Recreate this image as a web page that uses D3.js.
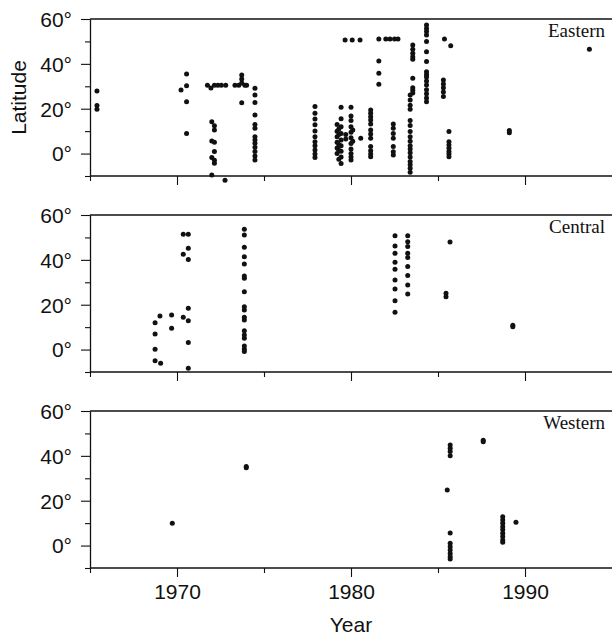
<!DOCTYPE html>
<html>
<head>
<meta charset="utf-8">
<script src="https://cdn.jsdelivr.net/npm/d3@7"></script>
<style>
  body { margin: 0; background: #fff; }
  svg text { fill: #111; }
</style>
</head>
<body>
<div id="chart"></div>
<script>
// Each entry: [year, [latitudes observed at that year]]
const easternCols = [
  [1965.4, [27.9, 21.4, 19.8]],
  [1970.23, [28.3]],
  [1970.55, [35.5, 30.2, 23.1, 9.0]],
  [1971.75, [30.5]], [1971.95, [29.2]], [1972.15, [30.5]], [1972.35, [30.5]], [1972.55, [30.5]], [1972.8, [30.5]],
  [1972.0, [14.2, 5.6, -1.8, -9.5]],
  [1972.15, [12.4, 10.5, 5.0, 0.9, -3.0, -4.3]],
  [1972.76, [-11.9]],
  [1973.33, [30.5]], [1973.55, [30.5]], [1973.72, [35.0, 33.3, 31.5, 22.7]], [1973.9, [30.5]], [1974.0, [30.5]],
  [1974.48, [29.1, 26.1, 22.8, 17.2, 13, 11.3, 7.5, 6, 4.6, 2.8, 0.9, -1.1, -2.9]],
  [1977.93, [21, 18, 15.4, 12.8, 10.1, 7.5, 5.3, 3.5, 1.6, -0.2, -1.7]],
  [1979.2, [13, 10, 7.5, 5, 2.5, 0]],
  [1979.3, [11, 8.5, 4, 1.5, -2.5]],
  [1979.43, [20.6, 15.5, 12, 9, 6, 3.5, 1, -1.5, -4.4]],
  [1979.7, [8.5, 6.5]],
  [1980.0, [20.6, 16.8, 14.7, 12, 9.5, 7, 4.5, 2, 0, -1.5, -2.9]],
  [1980.1, [10.5, 5.5]],
  [1980.56, [6.8]],
  [1979.66, [50.6]], [1980.07, [50.6]], [1980.52, [50.6]],
  [1981.13, [19.4, 18, 16.4, 15, 13.2, 10.5, 8.7, 6.8, 3.1, 1.3, -0.2, -1.4]],
  [1981.6, [51.1, 41.3, 35.8, 30.9]],
  [1982.0, [51.1]], [1982.24, [51.1]], [1982.5, [51.1]], [1982.7, [51.1]],
  [1982.43, [13.2, 11.3, 9, 6.8, 3.1, 0.8, -0.6]],
  [1983.55, [48.4, 46.5, 44.7, 43.2, 42, 33.6, 29.4, 28.2, 27]],
  [1983.4, [26.1, 23.9, 21.5, 19.8, 14.7, 12.5, 9.8, 7.5, 5.5, 3.5, 2, 0.4, -1.5, -3.5, -5, -6.5, -8.3]],
  [1984.34, [57.3, 55.8, 54.4, 52.9, 50, 45.4, 41, 36.5, 35.3, 34.1, 32.4, 30.6, 28.5, 26.7, 24.8, 23.1]],
  [1985.37, [51.1]], [1985.73, [48.1]],
  [1985.31, [32.8, 31, 29.3, 27.5, 25.4]],
  [1985.63, [9.8, 5.3, 3.8, 2.4, 0.9, -0.2, -1.4]],
  [1989.1, [10.3, 9.3]],
  [1993.7, [46.5]]
];

const centralCols = [
  [1968.74, [12.0, 6.9, 0.1, -5.0]],
  [1969.02, [15.0]], [1969.06, [-6.1]],
  [1969.69, [15.4, 9.5]],
  [1970.36, [51.4, 42.5, 14.4]],
  [1970.65, [51.4, 45.2, 40.2, 18.4, 12.9, 3.2, -8.3]],
  [1973.87, [53.6, 51.1, 45.6, 41.4, 38.2, 32.8, 31.8, 25.8, 19.1, 17.6, 14.4, 13.2, 8.4, 6.5, 5.0, 1.6, 0.1, -0.9]],
  [1982.53, [50.8, 46.2, 42.9, 38.9, 35.8, 31.0, 27.0, 21.8, 16.6]],
  [1983.26, [50.8, 48.1, 45.9, 42.9, 41.0, 37.0, 33.0, 28.8, 24.8]],
  [1985.69, [48.0]],
  [1985.46, [25.1, 23.6]],
  [1989.3, [10.8, 10.2]]
];

const westernCols = [
  [1969.73, [9.9]],
  [1973.98, [35.3, 34.7]],
  [1985.53, [24.8]],
  [1985.7, [44.8, 43.4, 41.9, 40.1, 5.6, 1.0, -0.5, -2.0, -3.5, -5.0, -6.0]],
  [1987.6, [47.0, 46.3]],
  [1988.72, [12.9, 11.4, 9.9, 8.4, 7.0, 5.5, 4.0, 2.5, 1.5]],
  [1989.48, [10.4]]
];

const panelNames = ["Eastern", "Central", "Western"];
const yearTicks = [1965, 1970, 1975, 1980, 1985, 1990];
const yearLabels = [1970, 1980, 1990];
const latTicks = [-10, 0, 10, 20, 30, 40, 50, 60];
const latLabels = [0, 20, 40, 60];

const width = 613, height = 635;
const left = 90, right = 612;
const panelTops = [19, 215, 411], panelH = 157;

const svg = d3.select("#chart").append("svg")
  .attr("width", width)
  .attr("height", height);

const x = d3.scaleLinear().domain([1965, 1995]).range([left, right]);

const flatten = cols => cols.flatMap(([yr, lats]) => lats.map(l => [yr, l]));
const panels = [easternCols, centralCols, westernCols].map(flatten);

panels.forEach((pts, i) => {
  const top = panelTops[i];
  const y = d3.scaleLinear().domain([-10, 60]).range([top + panelH, top]);
  const g = svg.append("g");

  // frame: top, bottom and left lines
  g.append("line").attr("x1", left).attr("x2", right).attr("y1", y(60)).attr("y2", y(60))
    .attr("stroke", "#111").attr("stroke-width", 1.3);
  g.append("line").attr("x1", left).attr("x2", right).attr("y1", y(-10)).attr("y2", y(-10))
    .attr("stroke", "#111").attr("stroke-width", 1.3);

  // y axis
  const yAxis = g.append("g")
    .attr("transform", `translate(${left},0)`)
    .call(d3.axisLeft(y).tickValues(latTicks).tickSize(0).tickFormat(""));
  yAxis.select(".domain").attr("stroke", "#111").attr("stroke-width", 1.3);
  yAxis.selectAll(".tick line")
    .attr("x2", d => latLabels.includes(d) ? -9 : -5)
    .attr("stroke", "#111").attr("stroke-width", 1.1);
  yAxis.selectAll(".tick text")
    .text(d => latLabels.includes(d) ? d + "°" : "")
    .attr("x", -18)
    .attr("dy", "0.35em")
    .attr("font-family", "Liberation Sans, Arial, sans-serif")
    .attr("font-size", 21);

  // x axis (ticks on every panel, labels only on the last)
  const xAxis = g.append("g")
    .attr("transform", `translate(0,${y(-10)})`)
    .call(d3.axisBottom(x).tickValues(yearTicks).tickSize(0).tickFormat(""));
  xAxis.select(".domain").remove();
  xAxis.selectAll(".tick line")
    .attr("y2", d => yearLabels.includes(d) ? 9 : 5)
    .attr("stroke", "#111").attr("stroke-width", 1.1);
  if (i === 2) {
    xAxis.selectAll(".tick text")
      .text(d => yearLabels.includes(d) ? d : "")
      .attr("y", 31)
      .attr("dy", 0)
      .attr("font-family", "Liberation Sans, Arial, sans-serif")
      .attr("font-size", 21);
  }

  // region name
  g.append("text")
    .attr("x", 605)
    .attr("y", top + 18)
    .attr("text-anchor", "end")
    .attr("font-family", "Liberation Serif, Times New Roman, serif")
    .attr("font-size", 19)
    .text(panelNames[i]);

  // observations
  g.selectAll("circle")
    .data(pts)
    .enter()
    .append("circle")
    .attr("cx", d => x(d[0]))
    .attr("cy", d => y(d[1]))
    .attr("r", 2.5)
    .attr("fill", "#111");
});

// Axis titles
svg.append("text")
  .attr("transform", `translate(26,${panelTops[0] + panelH / 2}) rotate(-90)`)
  .attr("text-anchor", "middle")
  .attr("font-family", "Liberation Sans, Arial, sans-serif")
  .attr("font-size", 21)
  .text("Latitude");

svg.append("text")
  .attr("x", x(1980))
  .attr("y", 632)
  .attr("text-anchor", "middle")
  .attr("font-family", "Liberation Sans, Arial, sans-serif")
  .attr("font-size", 21)
  .text("Year");
</script>
</body>
</html>
